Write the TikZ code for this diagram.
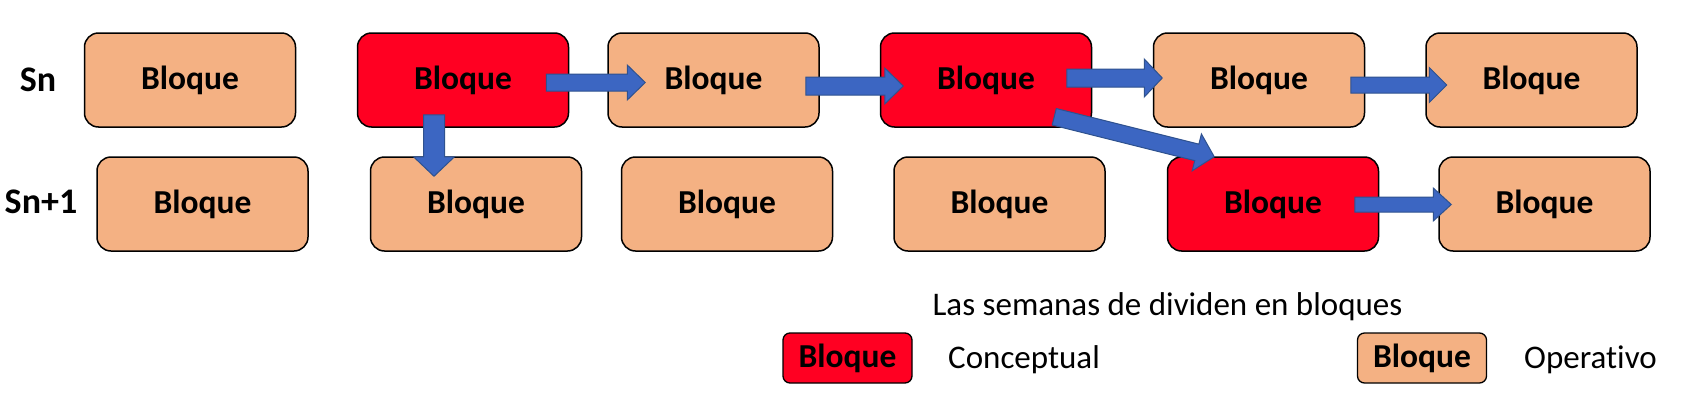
\documentclass[tikz,border=0pt]{standalone}
\usepackage{fontspec}
\setmainfont{Carlito}[Ligatures=NoCommon]
\usetikzlibrary{calc}
\definecolor{cred}{HTML}{FF0022}
\definecolor{corange}{HTML}{F4B183}
\definecolor{afill}{HTML}{3C66C2}
\definecolor{aline}{HTML}{2F528F}
\tikzset{
  blk/.style={draw=black, line width=1.5pt, rounded corners=14pt, minimum width=211pt, minimum height=94pt, inner sep=0pt, font=\bfseries\fontsize{33.5}{38}\selectfont},
  opblk/.style={blk, fill=corange},
  cpblk/.style={blk, fill=cred},
  legblk/.style={draw=black, line width=1.3pt, rounded corners=7pt, minimum width=129pt, minimum height=50pt, inner sep=0pt, font=\bfseries\fontsize{33.5}{38}\selectfont},
  rowlbl/.style={font=\bfseries\fontsize{36}{40}\selectfont, inner sep=0pt},
  plain/.style={font=\fontsize{33}{38}\selectfont, inner sep=0pt},
  blockarrow/.style={fill=afill, draw=aline, line width=1pt, line join=miter}
}
% #1 start, #2 tip, #3 half shaft width, #4 half head width, #5 head length
\newcommand{\blkarrow}[5]{%
  \draw[blockarrow] let \p1=($(#2)-(#1)$), \n1={veclen(\x1,\y1)}, \n2={atan2(\y1,\x1)} in
    ([shift={(#1)},rotate=\n2]0,#3) -- ([shift={(#1)},rotate=\n2]\n1-#5,#3) --
    ([shift={(#1)},rotate=\n2]\n1-#5,#4) -- (#2) --
    ([shift={(#1)},rotate=\n2]\n1-#5,-#4) -- ([shift={(#1)},rotate=\n2]\n1-#5,-#3) --
    ([shift={(#1)},rotate=\n2]0,-#3) -- cycle;}
\begin{document}
\begin{tikzpicture}[x=1pt,y=-1pt]
\useasboundingbox[fill=white] (0,0) rectangle (1684,402);
% row labels
\node[rowlbl] (sn) at (38,80) {Sn};
\node[rowlbl] (sn1) at (41,202) {Sn+1};
% row 1
\node[opblk] (A1) at (190,80) {Bloque};
\node[cpblk] (B1) at (463,80) {Bloque};
\node[opblk] (C1) at (713.5,80) {Bloque};
\node[cpblk] (D1) at (986,80) {Bloque};
\node[opblk] (E1) at (1259,80) {Bloque};
\node[opblk] (F1) at (1531.5,80) {Bloque};
% row 2
\node[opblk] (A2) at (202.5,204) {Bloque};
\node[opblk] (B2) at (476,204) {Bloque};
\node[opblk] (C2) at (727,204) {Bloque};
\node[opblk] (D2) at (999.5,204) {Bloque};
\node[cpblk] (G2) at (1273,204) {Bloque};
\node[opblk] (H2) at (1544.5,204) {Bloque};
% arrow end points
\coordinate (s1) at ($(B1.east)+(-23,2.5)$);
\coordinate (e1) at ($(C1.west)+(38,2.5)$);
\coordinate (s2) at ($(C1.east)+(-14,6)$);
\coordinate (e2) at ($(D1.west)+(23.5,6)$);
\coordinate (s3) at ($(D1.east)+(-25.5,-2)$);
\coordinate (e3) at ($(E1.west)+(9.5,-2)$);
\coordinate (s4) at ($(E1.east)+(-14.5,5)$);
\coordinate (e4) at ($(F1.west)+(21.5,5)$);
\coordinate (s5) at ($(G2.east)+(-24.5,0.5)$);
\coordinate (e5) at ($(H2.west)+(13,0.5)$);
\coordinate (s6) at ($(B1.south)+(-29,-13)$);
\coordinate (e6) at ($(B2.north)+(-42,20)$);
\coordinate (s7) at ($(D1.south east)+(-38,-11)$);
\coordinate (e7) at ($(G2.north west)+(47.5,0.5)$);
\blkarrow{s1}{e1}{8.5}{17.5}{18}
\blkarrow{s2}{e2}{9}{18}{18.5}
\blkarrow{s3}{e3}{9}{19}{18}
\blkarrow{s4}{e4}{8}{17.5}{17.5}
\blkarrow{s5}{e5}{7.5}{16.5}{18}
\blkarrow{s6}{e6}{10.5}{20.5}{19.5}
\blkarrow{s7}{e7}{8.5}{19}{18}
% legend
\node[plain] (title) at (1167.5,307) {Las semanas de dividen en bloques};
\node[legblk, fill=cred] (lc) at (847.5,358) {Bloque};
\node[plain, anchor=west] (lct) at (948,360) {Conceptual};
\node[legblk, fill=corange] (lo) at (1422,358) {Bloque};
\node[plain, anchor=west] (lot) at (1524,360) {Operativo};
\end{tikzpicture}
\end{document}
